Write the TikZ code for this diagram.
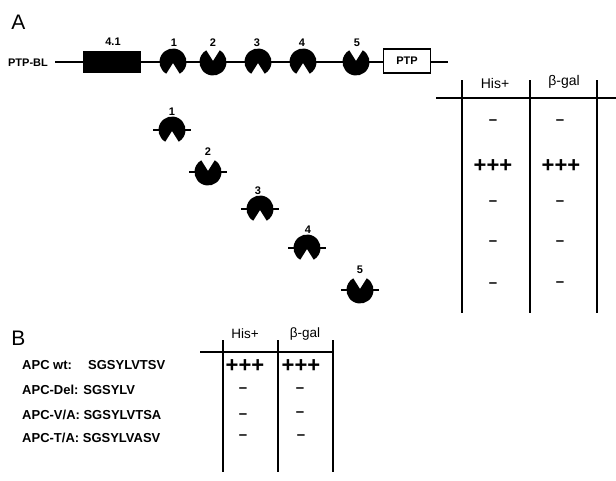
\documentclass[tikz,border=0pt]{standalone}
\usepackage{fontspec}
\setmainfont{Liberation Sans}
\tikzset{
  notchbot/.pic={\fill (120:13.5) arc[start angle=120,end angle=420,radius=13.5] -- (0,1) -- cycle;},
  notchtop/.pic={\fill (300:13.5) arc[start angle=300,end angle=600,radius=13.5] -- (0,-1) -- cycle;},
  stub/.style={line width=2.2pt},
  num/.style={font=\bfseries\fontsize{11}{13}\selectfont, inner sep=0pt},
  panel/.style={font=\fontsize{21}{24}\selectfont, inner sep=0pt},
  hdr/.style={font=\fontsize{14}{16}\selectfont, inner sep=0pt},
  plusx/.style={font=\bfseries\fontsize{22}{24}\selectfont, inner sep=0pt},
  minusx/.style={font=\bfseries\fontsize{15}{17}\selectfont, inner sep=0pt},
  rowlbl/.style={font=\bfseries\fontsize{13}{15}\selectfont, inner sep=0pt, anchor=west},
  tline/.style={line width=2.6pt},
}
\begin{document}
\begin{tikzpicture}[x=1pt,y=-1pt]
\useasboundingbox (0,0) rectangle (616,480);
% panel A
\node[panel] (lA) at (18.5,22.5) {A};
\node[num, font=\bfseries\fontsize{11}{13}\selectfont] (ptpbl) at (28,63) {PTP-BL};
\coordinate (blstart) at (55,62);
\coordinate (blend) at (448,62);
\draw[line width=2.2pt] (blstart) -- (blend);
\node[fill=black, minimum width=58pt, minimum height=22pt, inner sep=0pt] (b41) at (112,62) {};
\node[num] (l41) at (113,42) {4.1};
\pic (d1) at (173,62) {notchbot};
\pic (d2) at (213,62) {notchtop};
\pic (d3) at (258,62) {notchbot};
\pic (d4) at (303,62) {notchbot};
\pic (d5) at (356,62) {notchtop};
\node[num] (n1) at (174,43) {1};
\node[num] (n2) at (213,43) {2};
\node[num] (n3) at (257,43) {3};
\node[num] (n4) at (302,43) {4};
\node[num] (n5) at (357,43) {5};
\node[draw, line width=1.8pt, fill=white, minimum width=47pt, minimum height=24pt, inner sep=0pt,
      font=\bfseries\fontsize{11}{13}\selectfont] (ptp) at (407,61) {PTP};
% diagonal domains
\coordinate (e1) at (172,130);
\coordinate (e2) at (208,172);
\coordinate (e3) at (260,209);
\coordinate (e4) at (307,248);
\coordinate (e5) at (360,290);
\foreach \c in {e1,e2,e3,e4,e5}{\draw[stub] ([xshift=-19pt]\c) -- ([xshift=19pt]\c);}
\pic (f1) at (e1) {notchbot};
\pic (f2) at (e2) {notchtop};
\pic (f3) at (e3) {notchbot};
\pic (f4) at (e4) {notchbot};
\pic (f5) at (e5) {notchtop};
\node[num] (m1) at (172,112) {1};
\node[num] (m2) at (208,152) {2};
\node[num] (m3) at (258,191) {3};
\node[num] (m4) at (308,230) {4};
\node[num] (m5) at (360,270) {5};
% table A
\draw[tline] (436,98) -- (616,98);
\draw[tline] (462,80) -- (462,313);
\draw[tline] (530,80) -- (530,313);
\draw[tline] (597,80) -- (597,313);
\node[hdr] (ha1) at (495,83) {His+};
\node[hdr] (ha2) at (564,82) {β-gal};
\node[minusx] (a11) at (493,122) {\textendash};
\node[minusx] (a12) at (560,122) {\textendash};
\node[plusx] (a21) at (493,166) {+++};
\node[plusx] (a22) at (561,166) {+++};
\node[minusx] (a31) at (493,203) {\textendash};
\node[minusx] (a32) at (560,203) {\textendash};
\node[minusx] (a41) at (493,243) {\textendash};
\node[minusx] (a42) at (560,243) {\textendash};
\node[minusx] (a51) at (493,285) {\textendash};
\node[minusx] (a52) at (560,284) {\textendash};
% panel B
\node[panel] (lB) at (18.5,338) {B};
\draw[tline] (200,352) -- (334,352);
\draw[tline] (223,340) -- (223,472);
\draw[tline] (278,340) -- (278,472);
\draw[tline] (333,340) -- (333,472);
\node[hdr, font=\fontsize{13.5}{15}\selectfont] (hb1) at (245,334) {His+};
\node[hdr, font=\fontsize{13.5}{15}\selectfont] (hb2) at (305,334) {β-gal};
\node[rowlbl] (r1) at (22,365) {APC wt:};
\node[rowlbl] (r1s) at (88,365) {SGSYLVTSV};
\node[rowlbl] (r2) at (22,390) {APC-Del: SGSYLV};
\node[rowlbl] (r3) at (22,415) {APC-V/A: SGSYLVTSA};
\node[rowlbl] (r4) at (22,438) {APC-T/A: SGSYLVASV};
\node[plusx] (b11) at (245,366) {+++};
\node[plusx] (b12) at (301,366) {+++};
\node[minusx] (b21) at (243,390) {\textendash};
\node[minusx] (b22) at (300,390) {\textendash};
\node[minusx] (b31) at (243,416) {\textendash};
\node[minusx] (b32) at (300,414) {\textendash};
\node[minusx] (b41) at (243,437) {\textendash};
\node[minusx] (b42) at (301,437) {\textendash};
\end{tikzpicture}
\end{document}
